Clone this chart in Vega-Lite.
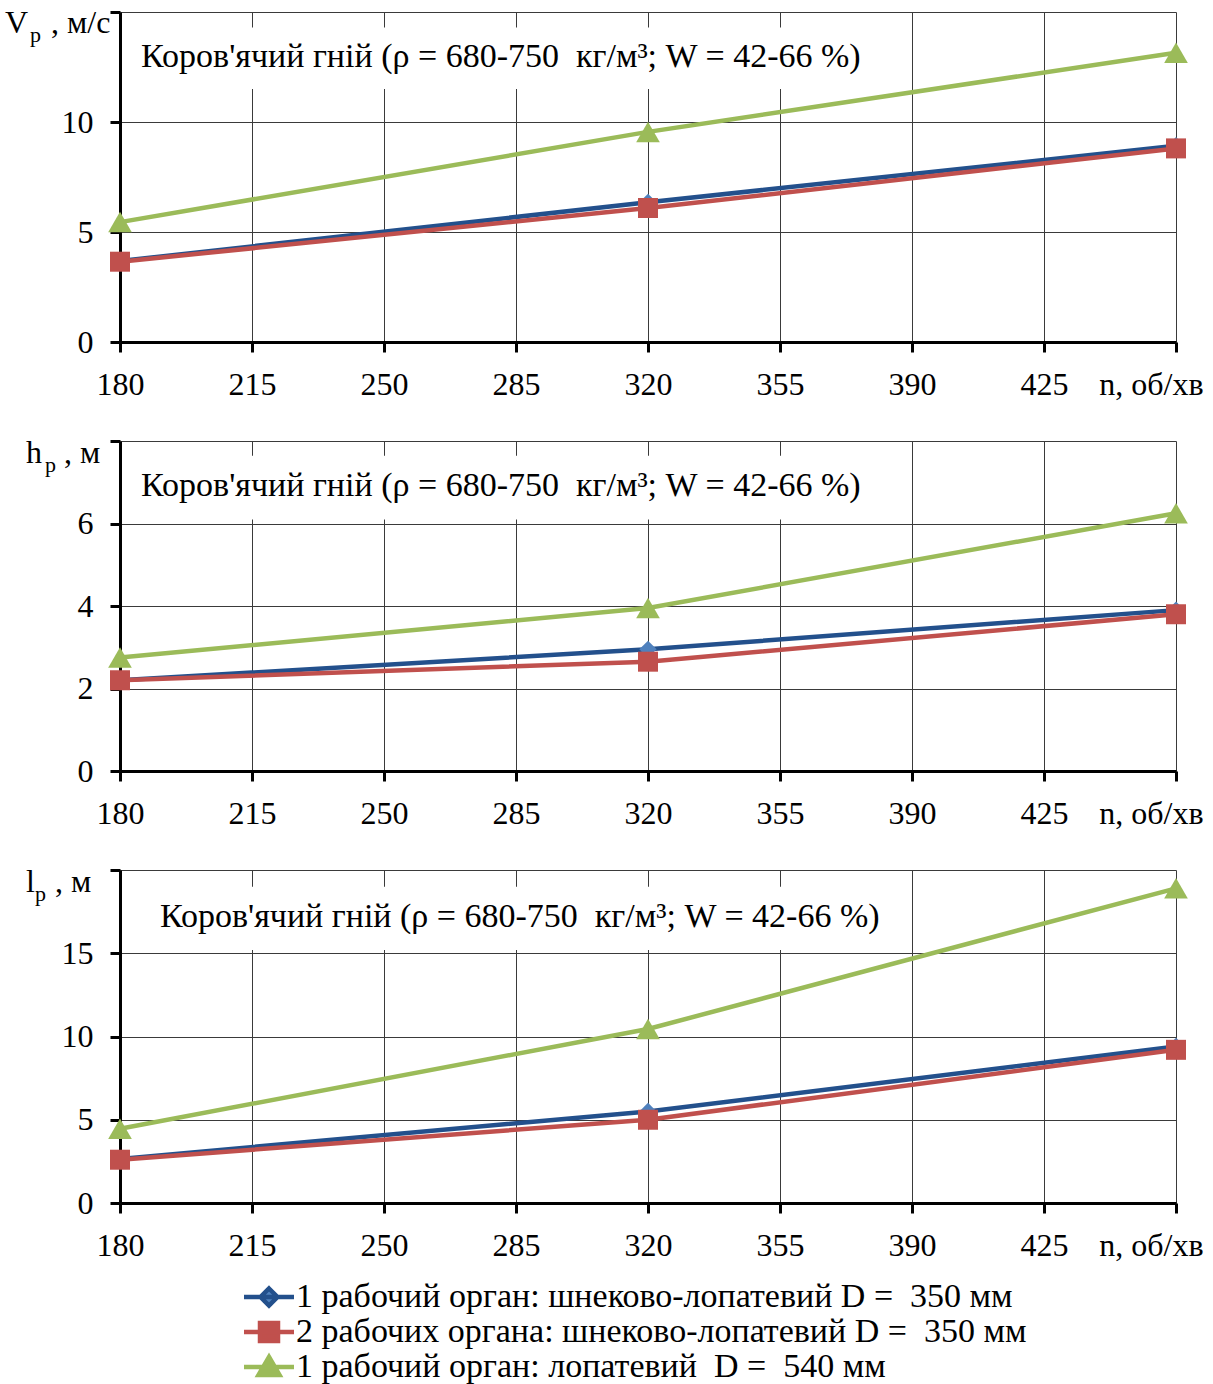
{
  "$schema": "https://vega.github.io/schema/vega-lite/v6.json",
  "padding": {"left": 5, "top": -4, "right": 5, "bottom": 5},
  "spacing": 99,
  "bounds": "flush",
  "datasets": {
    "d": [
      {"panel": "V", "n": 180, "series": "1 рабочий орган: шнеково-лопатевий D =\u00a0 350 мм", "value": 3.68},
      {"panel": "V", "n": 320, "series": "1 рабочий орган: шнеково-лопатевий D =\u00a0 350 мм", "value": 6.35},
      {"panel": "V", "n": 460, "series": "1 рабочий орган: шнеково-лопатевий D =\u00a0 350 мм", "value": 8.92},
      {"panel": "V", "n": 180, "series": "2 рабочих органа: шнеково-лопатевий D =\u00a0 350 мм", "value": 3.65},
      {"panel": "V", "n": 320, "series": "2 рабочих органа: шнеково-лопатевий D =\u00a0 350 мм", "value": 6.09},
      {"panel": "V", "n": 460, "series": "2 рабочих органа: шнеково-лопатевий D =\u00a0 350 мм", "value": 8.8},
      {"panel": "V", "n": 180, "series": "1 рабочий орган: лопатевий\u00a0 D =\u00a0 540 мм", "value": 5.45},
      {"panel": "V", "n": 320, "series": "1 рабочий орган: лопатевий\u00a0 D =\u00a0 540 мм", "value": 9.55},
      {"panel": "V", "n": 460, "series": "1 рабочий орган: лопатевий\u00a0 D =\u00a0 540 мм", "value": 13.15},
      {"panel": "h", "n": 180, "series": "1 рабочий орган: шнеково-лопатевий D =\u00a0 350 мм", "value": 2.2},
      {"panel": "h", "n": 320, "series": "1 рабочий орган: шнеково-лопатевий D =\u00a0 350 мм", "value": 2.95},
      {"panel": "h", "n": 460, "series": "1 рабочий орган: шнеково-лопатевий D =\u00a0 350 мм", "value": 3.9},
      {"panel": "h", "n": 180, "series": "2 рабочих органа: шнеково-лопатевий D =\u00a0 350 мм", "value": 2.2},
      {"panel": "h", "n": 320, "series": "2 рабочих органа: шнеково-лопатевий D =\u00a0 350 мм", "value": 2.65},
      {"panel": "h", "n": 460, "series": "2 рабочих органа: шнеково-лопатевий D =\u00a0 350 мм", "value": 3.8},
      {"panel": "h", "n": 180, "series": "1 рабочий орган: лопатевий\u00a0 D =\u00a0 540 мм", "value": 2.75},
      {"panel": "h", "n": 320, "series": "1 рабочий орган: лопатевий\u00a0 D =\u00a0 540 мм", "value": 3.95},
      {"panel": "h", "n": 460, "series": "1 рабочий орган: лопатевий\u00a0 D =\u00a0 540 мм", "value": 6.25},
      {"panel": "l", "n": 180, "series": "1 рабочий орган: шнеково-лопатевий D =\u00a0 350 мм", "value": 2.65},
      {"panel": "l", "n": 320, "series": "1 рабочий орган: шнеково-лопатевий D =\u00a0 350 мм", "value": 5.5},
      {"panel": "l", "n": 460, "series": "1 рабочий орган: шнеково-лопатевий D =\u00a0 350 мм", "value": 9.4},
      {"panel": "l", "n": 180, "series": "2 рабочих органа: шнеково-лопатевий D =\u00a0 350 мм", "value": 2.6},
      {"panel": "l", "n": 320, "series": "2 рабочих органа: шнеково-лопатевий D =\u00a0 350 мм", "value": 5.0},
      {"panel": "l", "n": 460, "series": "2 рабочих органа: шнеково-лопатевий D =\u00a0 350 мм", "value": 9.2},
      {"panel": "l", "n": 180, "series": "1 рабочий орган: лопатевий\u00a0 D =\u00a0 540 мм", "value": 4.46},
      {"panel": "l", "n": 320, "series": "1 рабочий орган: лопатевий\u00a0 D =\u00a0 540 мм", "value": 10.45},
      {"panel": "l", "n": 460, "series": "1 рабочий орган: лопатевий\u00a0 D =\u00a0 540 мм", "value": 18.9}
    ]
  },
  "config": {
    "view": {"stroke": null},
    "font": "Liberation Serif",
    "axis": {
      "labelFont": "Liberation Serif",
      "labelFontSize": 32,
      "labelColor": "#000000",
      "domainColor": "#000000",
      "domainWidth": 3,
      "tickColor": "#000000",
      "tickWidth": 3,
      "tickSize": 10,
      "gridColor": "#3a3a3a",
      "gridWidth": 1,
      "labelPadding": 17,
      "title": null,
      "labelFlush": false,
      "labelOverlap": false
    },
    "legend": {
      "symbolType": {"expr": "substring(datum.value,0,1) === '2' ? 'M-2.5,0H2.5M-0.9,-0.9H0.9V0.9H-0.9Z' : (indexof(datum.value, 'шнеково') >= 0 ? 'M-2.5,0H2.5M0,-0.85L0.85,0L0,0.85L-0.85,0Z' : 'M-2.5,0H2.5M0,-1L1.05,0.8H-1.05Z')"},
      "symbolFillColor": {"expr": "substring(datum.value,0,1) === '2' ? '#C0504D' : (indexof(datum.value, 'шнеково') >= 0 ? '#4F81BD' : '#9BBB59')"}
    },
    "text": {"font": "Liberation Serif", "color": "#000000"},
    "line": {"strokeWidth": 4.5}
  },
  "vconcat": [
    {
      "width": 1056,
      "height": 330,
      "layer": [
        {
          "data": {"values": [{}]},
          "mark": {"type": "rect", "fill": "white"},
          "encoding": {
            "x": {"datum": 180.8, "type": "quantitative", "scale": {"domain": [180, 460], "nice": false}},
            "x2": {"datum": 385},
            "y": {"datum": 11.5, "type": "quantitative", "scale": {"domain": [0, 15], "nice": false}},
            "y2": {"datum": 14.3}
          }
        },
        {
          "data": {"name": "d"},
          "transform": [{"filter": "datum.panel === 'V'"}],
          "mark": {"type": "line"},
          "encoding": {
            "x": {"field": "n", "type": "quantitative", "scale": {"domain": [180, 460], "nice": false},
              "axis": {"values": [180, 215, 250, 285, 320, 355, 390, 425, 460], "grid": true,
                "labelExpr": "datum.value == 460 ? 'n, об/хв' : datum.label",
                "labelAlign": {"condition": {"test": "datum.value == 460", "value": "right"}, "value": "center"},
                "labelOffset": {"condition": {"test": "datum.value == 460", "value": 27}, "value": 0}}},
            "y": {"field": "value", "type": "quantitative", "scale": {"domain": [0, 15], "nice": false},
              "axis": {"values": [0, 5, 10, 15], "grid": true, "labelExpr": "datum.value == 15 ? '' : datum.label"}},
            "color": {"field": "series", "type": "nominal",
              "scale": {"domain": ["1 рабочий орган: шнеково-лопатевий D =\u00a0 350 мм", "2 рабочих органа: шнеково-лопатевий D =\u00a0 350 мм", "1 рабочий орган: лопатевий\u00a0 D =\u00a0 540 мм"], "range": ["#23508C", "#C0504D", "#9BBB59"]},
              "legend": {
                "title": null, "orient": "none", "legendX": 132, "legendY": 1268, "direction": "vertical",
                "labelFont": "Liberation Serif", "labelFontSize": 34, "labelColor": "#000000", "labelLimit": 0,
                "symbolSize": 400, "symbolStrokeWidth": 4, "labelOffset": 10, "rowPadding": -2
              }}
          }
        },
        {
          "data": {"name": "d"},
          "transform": [{"filter": "datum.panel === 'V' && datum.series === '1 рабочий орган: шнеково-лопатевий D =\u00a0 350 мм'"}],
          "mark": {"type": "point", "shape": "diamond", "filled": true, "size": 300, "color": "#4F81BD", "opacity": 1},
          "encoding": {
            "x": {"field": "n", "type": "quantitative", "scale": {"domain": [180, 460], "nice": false}},
            "y": {"field": "value", "type": "quantitative", "scale": {"domain": [0, 15], "nice": false}}
          }
        },
        {
          "data": {"name": "d"},
          "transform": [{"filter": "datum.panel === 'V' && datum.series === '2 рабочих органа: шнеково-лопатевий D =\u00a0 350 мм'"}],
          "mark": {"type": "point", "shape": "square", "filled": true, "size": 400, "color": "#C0504D", "opacity": 1},
          "encoding": {
            "x": {"field": "n", "type": "quantitative", "scale": {"domain": [180, 460], "nice": false}},
            "y": {"field": "value", "type": "quantitative", "scale": {"domain": [0, 15], "nice": false}}
          }
        },
        {
          "data": {"name": "d"},
          "transform": [{"filter": "datum.panel === 'V' && datum.series === '1 рабочий орган: лопатевий\u00a0 D =\u00a0 540 мм'"}],
          "mark": {"type": "point", "shape": "triangle-up", "filled": true, "size": 560, "color": "#9BBB59", "opacity": 1},
          "encoding": {
            "x": {"field": "n", "type": "quantitative", "scale": {"domain": [180, 460], "nice": false}},
            "y": {"field": "value", "type": "quantitative", "scale": {"domain": [0, 15], "nice": false}}
          }
        },
        {
          "data": {"values": [{}]},
          "mark": {"type": "text", "text": "Коров'ячий гній (ρ = 680-750\u00a0 кг/м³; W = 42-66\u00a0%)", "align": "left", "baseline": "middle", "fontSize": 34},
          "encoding": {"x": {"datum": 185.6, "type": "quantitative"}, "y": {"datum": 12.95, "type": "quantitative"}}
        },
        {
          "data": {"values": [{}]},
          "mark": {"type": "text", "text": "V", "align": "left", "baseline": "alphabetic", "fontSize": 32, "dx": -115, "dy": 21},
          "encoding": {"x": {"datum": 180, "type": "quantitative"}, "y": {"datum": 15, "type": "quantitative"}}
        },
        {
          "data": {"values": [{}]},
          "mark": {"type": "text", "text": "p", "align": "left", "baseline": "alphabetic", "fontSize": 22, "dx": -90, "dy": 30},
          "encoding": {"x": {"datum": 180, "type": "quantitative"}, "y": {"datum": 15, "type": "quantitative"}}
        },
        {
          "data": {"values": [{}]},
          "mark": {"type": "text", "text": ", м/с", "align": "left", "baseline": "alphabetic", "fontSize": 32, "dx": -69, "dy": 21},
          "encoding": {"x": {"datum": 180, "type": "quantitative"}, "y": {"datum": 15, "type": "quantitative"}}
        }
      ]
    },
    {
      "width": 1056,
      "height": 330,
      "layer": [
        {
          "data": {"values": [{}]},
          "mark": {"type": "rect", "fill": "white"},
          "encoding": {
            "x": {"datum": 180.8, "type": "quantitative", "scale": {"domain": [180, 460], "nice": false}},
            "x2": {"datum": 380},
            "y": {"datum": 6.1, "type": "quantitative", "scale": {"domain": [0, 8], "nice": false}},
            "y2": {"datum": 7.64}
          }
        },
        {
          "data": {"name": "d"},
          "transform": [{"filter": "datum.panel === 'h'"}],
          "mark": {"type": "line"},
          "encoding": {
            "x": {"field": "n", "type": "quantitative", "scale": {"domain": [180, 460], "nice": false},
              "axis": {"values": [180, 215, 250, 285, 320, 355, 390, 425, 460], "grid": true,
                "labelExpr": "datum.value == 460 ? 'n, об/хв' : datum.label",
                "labelAlign": {"condition": {"test": "datum.value == 460", "value": "right"}, "value": "center"},
                "labelOffset": {"condition": {"test": "datum.value == 460", "value": 27}, "value": 0}}},
            "y": {"field": "value", "type": "quantitative", "scale": {"domain": [0, 8], "nice": false},
              "axis": {"values": [0, 2, 4, 6, 8], "grid": true, "labelExpr": "datum.value == 8 ? '' : datum.label"}},
            "color": {"field": "series", "type": "nominal",
              "scale": {"domain": ["1 рабочий орган: шнеково-лопатевий D =\u00a0 350 мм", "2 рабочих органа: шнеково-лопатевий D =\u00a0 350 мм", "1 рабочий орган: лопатевий\u00a0 D =\u00a0 540 мм"], "range": ["#23508C", "#C0504D", "#9BBB59"]},
              "legend": {
                "title": null, "orient": "none", "legendX": 132, "legendY": 1268, "direction": "vertical",
                "labelFont": "Liberation Serif", "labelFontSize": 34, "labelColor": "#000000", "labelLimit": 0,
                "symbolSize": 400, "symbolStrokeWidth": 4, "labelOffset": 10, "rowPadding": -2
              }}
          }
        },
        {
          "data": {"name": "d"},
          "transform": [{"filter": "datum.panel === 'h' && datum.series === '1 рабочий орган: шнеково-лопатевий D =\u00a0 350 мм'"}],
          "mark": {"type": "point", "shape": "diamond", "filled": true, "size": 300, "color": "#4F81BD", "opacity": 1},
          "encoding": {
            "x": {"field": "n", "type": "quantitative", "scale": {"domain": [180, 460], "nice": false}},
            "y": {"field": "value", "type": "quantitative", "scale": {"domain": [0, 8], "nice": false}}
          }
        },
        {
          "data": {"name": "d"},
          "transform": [{"filter": "datum.panel === 'h' && datum.series === '2 рабочих органа: шнеково-лопатевий D =\u00a0 350 мм'"}],
          "mark": {"type": "point", "shape": "square", "filled": true, "size": 400, "color": "#C0504D", "opacity": 1},
          "encoding": {
            "x": {"field": "n", "type": "quantitative", "scale": {"domain": [180, 460], "nice": false}},
            "y": {"field": "value", "type": "quantitative", "scale": {"domain": [0, 8], "nice": false}}
          }
        },
        {
          "data": {"name": "d"},
          "transform": [{"filter": "datum.panel === 'h' && datum.series === '1 рабочий орган: лопатевий\u00a0 D =\u00a0 540 мм'"}],
          "mark": {"type": "point", "shape": "triangle-up", "filled": true, "size": 560, "color": "#9BBB59", "opacity": 1},
          "encoding": {
            "x": {"field": "n", "type": "quantitative", "scale": {"domain": [180, 460], "nice": false}},
            "y": {"field": "value", "type": "quantitative", "scale": {"domain": [0, 8], "nice": false}}
          }
        },
        {
          "data": {"values": [{}]},
          "mark": {"type": "text", "text": "Коров'ячий гній (ρ = 680-750\u00a0 кг/м³; W = 42-66\u00a0%)", "align": "left", "baseline": "middle", "fontSize": 34},
          "encoding": {"x": {"datum": 185.6, "type": "quantitative"}, "y": {"datum": 6.92, "type": "quantitative"}}
        },
        {
          "data": {"values": [{}]},
          "mark": {"type": "text", "text": "h", "align": "left", "baseline": "alphabetic", "fontSize": 32, "dx": -94, "dy": 22},
          "encoding": {"x": {"datum": 180, "type": "quantitative"}, "y": {"datum": 8, "type": "quantitative"}}
        },
        {
          "data": {"values": [{}]},
          "mark": {"type": "text", "text": "p", "align": "left", "baseline": "alphabetic", "fontSize": 22, "dx": -75, "dy": 31},
          "encoding": {"x": {"datum": 180, "type": "quantitative"}, "y": {"datum": 8, "type": "quantitative"}}
        },
        {
          "data": {"values": [{}]},
          "mark": {"type": "text", "text": ", м", "align": "left", "baseline": "alphabetic", "fontSize": 32, "dx": -56, "dy": 22},
          "encoding": {"x": {"datum": 180, "type": "quantitative"}, "y": {"datum": 8, "type": "quantitative"}}
        }
      ]
    },
    {
      "width": 1056,
      "height": 333,
      "layer": [
        {
          "data": {"values": [{}]},
          "mark": {"type": "rect", "fill": "white"},
          "encoding": {
            "x": {"datum": 180.8, "type": "quantitative", "scale": {"domain": [180, 460], "nice": false}},
            "x2": {"datum": 385},
            "y": {"datum": 15.2, "type": "quantitative", "scale": {"domain": [0, 20], "nice": false}},
            "y2": {"datum": 19.0}
          }
        },
        {
          "data": {"name": "d"},
          "transform": [{"filter": "datum.panel === 'l'"}],
          "mark": {"type": "line"},
          "encoding": {
            "x": {"field": "n", "type": "quantitative", "scale": {"domain": [180, 460], "nice": false},
              "axis": {"values": [180, 215, 250, 285, 320, 355, 390, 425, 460], "grid": true,
                "labelExpr": "datum.value == 460 ? 'n, об/хв' : datum.label",
                "labelAlign": {"condition": {"test": "datum.value == 460", "value": "right"}, "value": "center"},
                "labelOffset": {"condition": {"test": "datum.value == 460", "value": 27}, "value": 0}}},
            "y": {"field": "value", "type": "quantitative", "scale": {"domain": [0, 20], "nice": false},
              "axis": {"values": [0, 5, 10, 15, 20], "grid": true, "labelExpr": "datum.value == 20 ? '' : datum.label"}},
            "color": {"field": "series", "type": "nominal",
              "scale": {"domain": ["1 рабочий орган: шнеково-лопатевий D =\u00a0 350 мм", "2 рабочих органа: шнеково-лопатевий D =\u00a0 350 мм", "1 рабочий орган: лопатевий\u00a0 D =\u00a0 540 мм"], "range": ["#23508C", "#C0504D", "#9BBB59"]},
              "legend": {
                "title": null, "orient": "none", "legendX": 132, "legendY": 1268, "direction": "vertical",
                "labelFont": "Liberation Serif", "labelFontSize": 34, "labelColor": "#000000", "labelLimit": 0,
                "symbolSize": 400, "symbolStrokeWidth": 4, "labelOffset": 10, "rowPadding": -2
              }}
          }
        },
        {
          "data": {"name": "d"},
          "transform": [{"filter": "datum.panel === 'l' && datum.series === '1 рабочий орган: шнеково-лопатевий D =\u00a0 350 мм'"}],
          "mark": {"type": "point", "shape": "diamond", "filled": true, "size": 300, "color": "#4F81BD", "opacity": 1},
          "encoding": {
            "x": {"field": "n", "type": "quantitative", "scale": {"domain": [180, 460], "nice": false}},
            "y": {"field": "value", "type": "quantitative", "scale": {"domain": [0, 20], "nice": false}}
          }
        },
        {
          "data": {"name": "d"},
          "transform": [{"filter": "datum.panel === 'l' && datum.series === '2 рабочих органа: шнеково-лопатевий D =\u00a0 350 мм'"}],
          "mark": {"type": "point", "shape": "square", "filled": true, "size": 400, "color": "#C0504D", "opacity": 1},
          "encoding": {
            "x": {"field": "n", "type": "quantitative", "scale": {"domain": [180, 460], "nice": false}},
            "y": {"field": "value", "type": "quantitative", "scale": {"domain": [0, 20], "nice": false}}
          }
        },
        {
          "data": {"name": "d"},
          "transform": [{"filter": "datum.panel === 'l' && datum.series === '1 рабочий орган: лопатевий\u00a0 D =\u00a0 540 мм'"}],
          "mark": {"type": "point", "shape": "triangle-up", "filled": true, "size": 560, "color": "#9BBB59", "opacity": 1},
          "encoding": {
            "x": {"field": "n", "type": "quantitative", "scale": {"domain": [180, 460], "nice": false}},
            "y": {"field": "value", "type": "quantitative", "scale": {"domain": [0, 20], "nice": false}}
          }
        },
        {
          "data": {"values": [{}]},
          "mark": {"type": "text", "text": "Коров'ячий гній (ρ = 680-750\u00a0 кг/м³; W = 42-66\u00a0%)", "align": "left", "baseline": "middle", "fontSize": 34},
          "encoding": {"x": {"datum": 190.6, "type": "quantitative"}, "y": {"datum": 17.2, "type": "quantitative"}}
        },
        {
          "data": {"values": [{}]},
          "mark": {"type": "text", "text": "l", "align": "left", "baseline": "alphabetic", "fontSize": 32, "dx": -94, "dy": 22},
          "encoding": {"x": {"datum": 180, "type": "quantitative"}, "y": {"datum": 20, "type": "quantitative"}}
        },
        {
          "data": {"values": [{}]},
          "mark": {"type": "text", "text": "p", "align": "left", "baseline": "alphabetic", "fontSize": 22, "dx": -85, "dy": 31},
          "encoding": {"x": {"datum": 180, "type": "quantitative"}, "y": {"datum": 20, "type": "quantitative"}}
        },
        {
          "data": {"values": [{}]},
          "mark": {"type": "text", "text": ", м", "align": "left", "baseline": "alphabetic", "fontSize": 32, "dx": -65, "dy": 22},
          "encoding": {"x": {"datum": 180, "type": "quantitative"}, "y": {"datum": 20, "type": "quantitative"}}
        }
      ]
    }
  ]
}
